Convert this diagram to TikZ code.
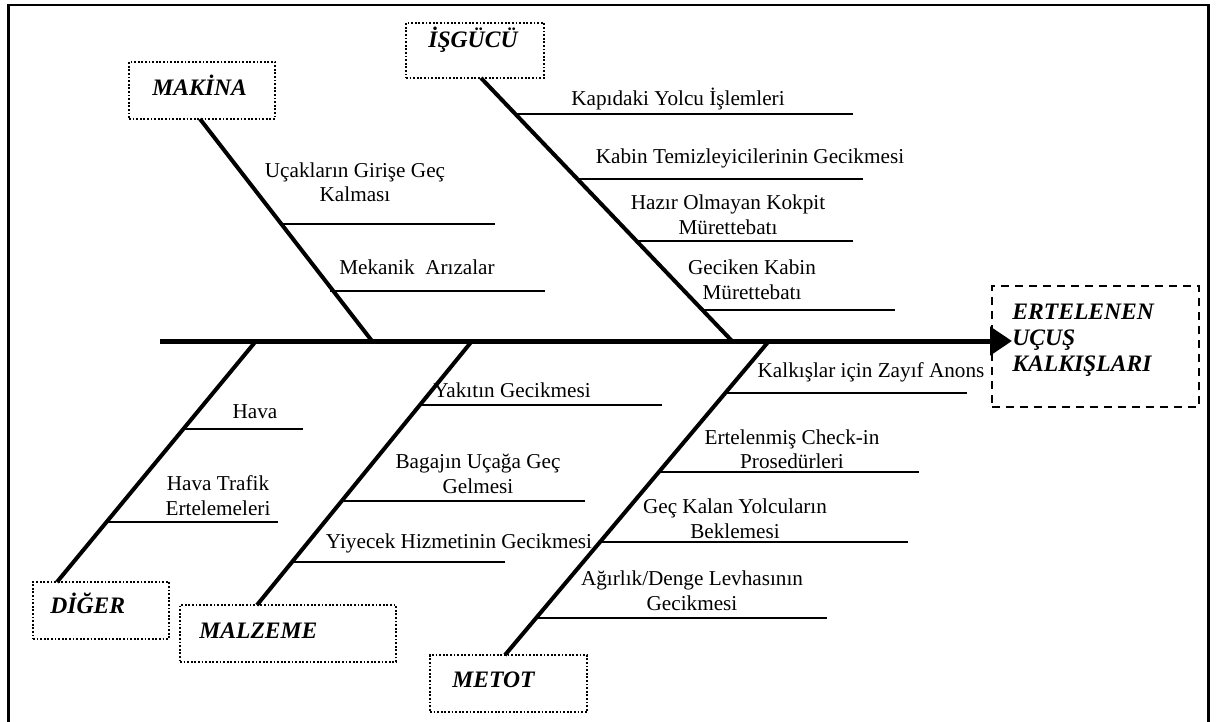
\documentclass[tikz,border=0pt]{standalone}
\usepackage{fontspec}
\setmainfont{Liberation Serif}
\usetikzlibrary{arrows.meta,fit}

% two centred lines whose baseline is the first line's baseline
\newcommand\twoln[2]{\vtop{\halign{\hfil##\hfil\cr #1\cr #2\cr}}}
% stacked left-aligned lines for the effect box
\newcommand\threeln[3]{\vtop{\baselineskip=13pt\halign{##\hfil\cr #1\cr #2\cr #3\cr}}}

\tikzset{
  txt/.style={font=\fontsize{10.6}{12.5}\selectfont, inner sep=0pt, anchor=base},
  cat/.style={font=\fontsize{11.8}{13}\selectfont\bfseries\itshape, inner sep=0pt, anchor=base west},
  catbox/.style={draw, line width=0.9pt, dash pattern=on 0.9pt off 0.9pt, inner sep=0pt},
  effbox/.style={draw, line width=1pt, dash pattern=on 4pt off 3pt, inner sep=0pt},
  bone/.style={line width=2pt},
  rib/.style={line width=1pt},
  spine/.style={line width=2.5pt, -{Triangle[length=11pt,width=14pt]}}
}

\begin{document}
\begin{tikzpicture}[x=0.5pt, y=-0.5pt]
\useasboundingbox (0,0) rectangle (1217,722);

% outer frame
\draw[line width=1.2pt] (8.5,730) -- (8.5,5) -- (1208.5,5) -- (1208.5,730);

% category boxes
\coordinate (mk1) at (129,62);  \coordinate (mk2) at (275,119);
\coordinate (ig1) at (406,23);  \coordinate (ig2) at (544,78);
\coordinate (dg1) at (33,582);  \coordinate (dg2) at (169,639);
\coordinate (mz1) at (180,605); \coordinate (mz2) at (396,662);
\coordinate (mt1) at (430,655); \coordinate (mt2) at (587,712);
\node[catbox, fit=(mk1)(mk2)] (makina) {};
\node[catbox, fit=(ig1)(ig2)] (isgucu) {};
\node[catbox, fit=(dg1)(dg2)] (diger) {};
\node[catbox, fit=(mz1)(mz2)] (malzeme) {};
\node[catbox, fit=(mt1)(mt2)] (metot) {};

\node[cat] (tmakina)  at (152,96)  {MAKİNA};
\node[cat] (tisgucu)  at (428,48)  {İŞGÜCÜ};
\node[cat] (tdiger)   at (50,613)  {DİĞER};
\node[cat] (tmalzeme) at (199,638) {MALZEME};
\node[cat] (tmetot)   at (452,687) {METOT};

% effect box
\coordinate (ef1) at (992,286); \coordinate (ef2) at (1199,407);
\node[effbox, fit=(ef1)(ef2)] (effect) {};
\node[cat] (teffect) at (1012,320) {\threeln{ERTELENEN}{UÇUŞ}{KALKIŞLARI}};

% spine
\coordinate (sp0) at (160,341);
\coordinate (sp1) at (1012,341);
\draw[spine] (sp0) -- (sp1);

% main bones
\coordinate (bmk0) at (200,119); \coordinate (bmk1) at (372,341);
\coordinate (big0) at (481,78);  \coordinate (big1) at (732,341);
\coordinate (bdg0) at (57,582);  \coordinate (bdg1) at (256,341);
\coordinate (bmz0) at (257,605); \coordinate (bmz1) at (472,341);
\coordinate (bmt0) at (505,655); \coordinate (bmt1) at (769,341);
\draw[bone] (bmk0) -- (bmk1);
\draw[bone] (big0) -- (big1);
\draw[bone] (bdg0) -- (bdg1);
\draw[bone] (bmz0) -- (bmz1);
\draw[bone] (bmt0) -- (bmt1);

% MAKINA causes
\node[txt] (c1) at (355,177) {\twoln{Uçakların Girişe Geç}{Kalması}};
\node[txt] (c2) at (417,275) {Mekanik\ \ Arızalar};
\coordinate (r1a) at (282,224); \coordinate (r1b) at (495,224);
\coordinate (r2a) at (330,291); \coordinate (r2b) at (545,291);
\draw[rib] (r1a) -- (r1b);
\draw[rib] (r2a) -- (r2b);

% ISGUCU causes
\node[txt] (c3) at (678,106) {Kapıdaki Yolcu İşlemleri};
\node[txt] (c4) at (750,163) {Kabin Temizleyicilerinin Gecikmesi};
\node[txt] (c5) at (728,210) {\twoln{Hazır Olmayan Kokpit}{Mürettebatı}};
\node[txt] (c6) at (752,275) {\twoln{Geciken Kabin}{Mürettebatı}};
\coordinate (r3a) at (515,114); \coordinate (r3b) at (853,114);
\coordinate (r4a) at (576,179); \coordinate (r4b) at (863,179);
\coordinate (r5a) at (637,241); \coordinate (r5b) at (853,241);
\coordinate (r6a) at (703,310); \coordinate (r6b) at (895,310);
\draw[rib] (r3a) -- (r3b);
\draw[rib] (r4a) -- (r4b);
\draw[rib] (r5a) -- (r5b);
\draw[rib] (r6a) -- (r6b);

% DIGER causes
\node[txt] (c7) at (255,418) {Hava};
\node[txt] (c8) at (218,490) {\twoln{Hava Trafik}{Ertelemeleri}};
\coordinate (r7a) at (183,429); \coordinate (r7b) at (303,429);
\coordinate (r8a) at (107,522); \coordinate (r8b) at (278,522);
\draw[rib] (r7a) -- (r7b);
\draw[rib] (r8a) -- (r8b);

% MALZEME causes
\node[txt] (c9)  at (512,397) {Yakıtın Gecikmesi};
\node[txt] (c10) at (478,468) {\twoln{Bagajın Uçağa Geç}{Gelmesi}};
\node[txt] (c11) at (459,548) {Yiyecek Hizmetinin Gecikmesi};
\coordinate (r9a)  at (422,405); \coordinate (r9b)  at (662,405);
\coordinate (r10a) at (344,501); \coordinate (r10b) at (585,501);
\coordinate (r11a) at (292,562); \coordinate (r11b) at (505,562);
\draw[rib] (r9a) -- (r9b);
\draw[rib] (r10a) -- (r10b);
\draw[rib] (r11a) -- (r11b);

% METOT causes
\node[txt] (c12) at (871,377) {Kalkışlar için Zayıf Anons};
\node[txt] (c13) at (792,444) {\twoln{Ertelenmiş Check-in}{Prosedürleri}};
\node[txt] (c14) at (735,513) {\twoln{Geç Kalan Yolcuların}{Beklemesi}};
\node[txt] (c15) at (692,585) {\twoln{Ağırlık/Denge Levhasının}{Gecikmesi}};
\coordinate (r12a) at (727,393); \coordinate (r12b) at (967,393);
\coordinate (r13a) at (657,472); \coordinate (r13b) at (919,472);
\coordinate (r14a) at (599,542); \coordinate (r14b) at (908,542);
\coordinate (r15a) at (538,618); \coordinate (r15b) at (827,618);
\draw[rib] (r12a) -- (r12b);
\draw[rib] (r13a) -- (r13b);
\draw[rib] (r14a) -- (r14b);
\draw[rib] (r15a) -- (r15b);
\end{tikzpicture}
\end{document}
